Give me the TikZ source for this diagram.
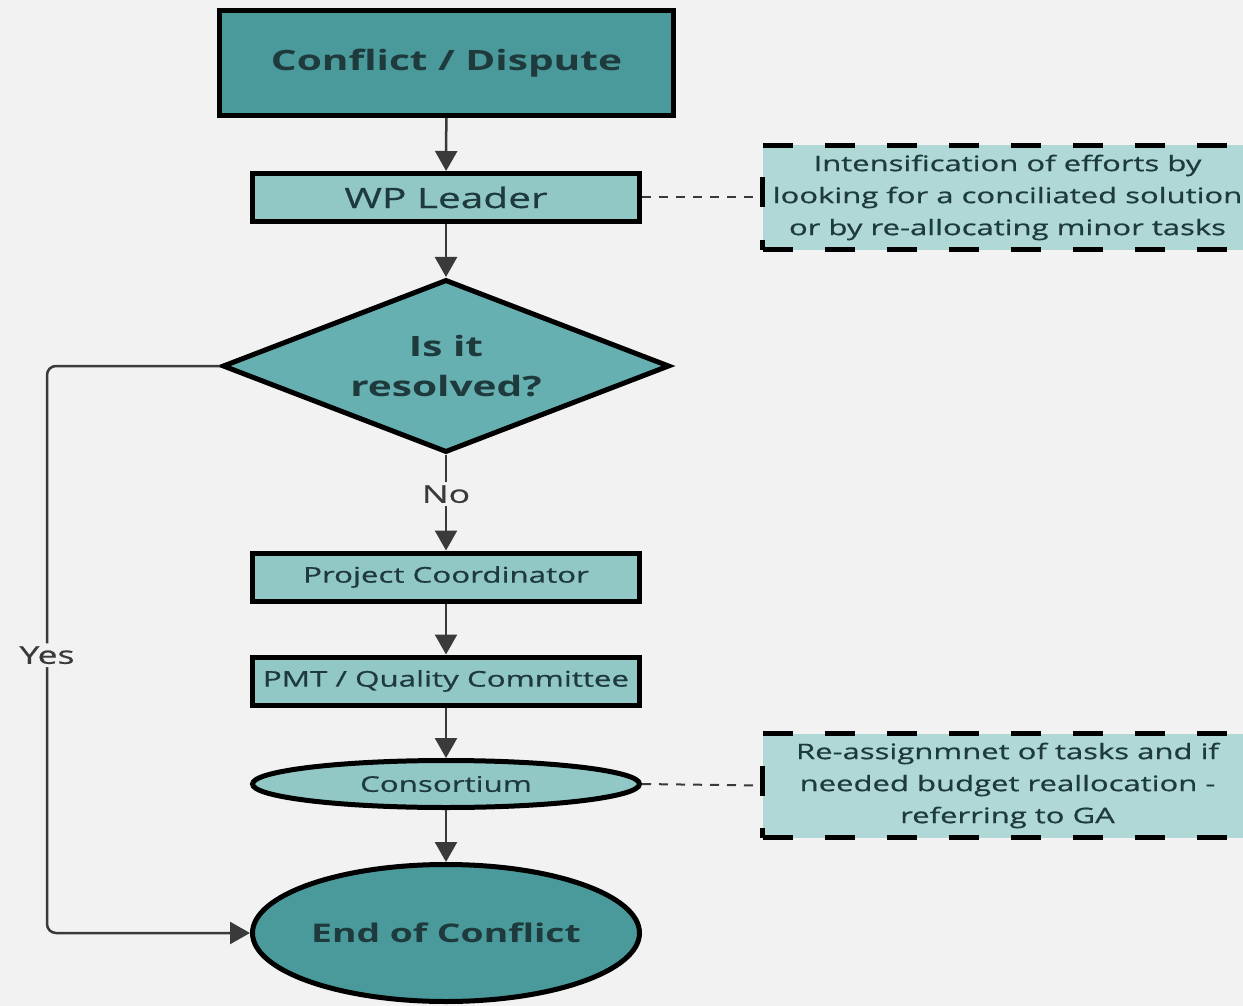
\documentclass[tikz,border=0pt]{standalone}
\usepackage{fontspec}
\setmainfont[FakeStretch=1.45, UprightFeatures={FakeBold=0.7}]{Open Sans}
\usetikzlibrary{shapes.geometric,arrows.meta}

\definecolor{pagebg}{HTML}{F2F2F2}
\definecolor{tealdark}{HTML}{4A9A9C}
\definecolor{tealmid}{HTML}{67B0B1}
\definecolor{teallight}{HTML}{91C8C6}
\definecolor{tealnote}{HTML}{AFD8D6}
\definecolor{inktext}{HTML}{1E3A3C}
\definecolor{linkgray}{HTML}{3A3A3A}

\tikzset{
  box/.style={draw=black, line width=5pt, text=inktext, inner sep=0pt, align=center},
  stepbox/.style={box, rectangle, fill=teallight, minimum width=387pt, minimum height=48pt,
    font=\fontsize{21.6}{26}\selectfont},
  notebox/.style={rectangle, fill=tealnote, draw=black, line width=5pt,
    dash pattern=on 30pt off 32pt, text=inktext, align=center, inner sep=0pt,
    minimum width=490pt, minimum height=104pt, font=\fontsize{21.4}{32}\selectfont},
  flow/.style={draw=linkgray, line width=2.5pt, -{Triangle[width=22pt,length=20pt]}},
  aside/.style={draw=linkgray, line width=2pt, dash pattern=on 9pt off 8pt},
  lbl/.style={fill=pagebg, text=linkgray, inner sep=3pt, font=\fontsize{24.5}{28}\selectfont}
}

\begin{document}
\begin{tikzpicture}[x=1pt,y=-1pt]
  \fill[pagebg] (0,0) rectangle (1243,1006);
  \useasboundingbox (0,0) rectangle (1243,1006);
  \clip (0,0) rectangle (1243,1006);

  % main chain
  \node[box, rectangle, fill=tealdark, minimum width=454pt, minimum height=105pt,
        font=\fontsize{28}{34}\selectfont\bfseries] (start) at (446.5,63) {Conflict / Dispute};
  \node[stepbox, font=\fontsize{28}{32}\selectfont] (wpl) at (446,197.5) {WP Leader};
  \node[box, diamond, fill=tealmid, minimum width=447pt, minimum height=173pt] (dec) at (446,366) {};
  \node[text=inktext, align=center, font=\fontsize{28}{40}\selectfont\bfseries] (dectext) at (dec.center) {Is it\\resolved?};
  \node[stepbox] (coord) at (446,577) {Project Coordinator};
  \node[stepbox] (pmt) at (446,681) {PMT / Quality Committee};
  \node[box, ellipse, fill=teallight, minimum width=387pt, minimum height=47pt,
        font=\fontsize{21.6}{26}\selectfont] (cons) at (446,784) {Consortium};
  \node[box, ellipse, fill=tealdark, minimum width=387pt, minimum height=137pt,
        font=\fontsize{25.7}{30}\selectfont\bfseries] (fin) at (446,933) {End of Conflict};

  % side notes
  \node[notebox] (note1) at (1007.5,197.5)
    {Intensification of efforts by\\looking for a conciliated solution\\or by re-allocating minor tasks};
  \node[notebox] (note2) at (1007.5,785.5)
    {Re-assignmnet of tasks and if\\needed budget reallocation -\\referring to GA};

  % connectors
  \draw[flow] (start) -- (wpl);
  \draw[flow] (wpl) -- (dec);
  \draw[flow] (dec) -- node[lbl, pos=0.41] {No} (coord);
  \draw[flow] (coord) -- (pmt);
  \draw[flow] (pmt) -- (cons);
  \draw[flow] (cons) -- (fin);
  \draw[flow, rounded corners=9pt] (dec.west) -- (47,366) -- node[lbl, pos=0.51] {Yes} (47,933) -- (fin.west);

  \draw[aside] (wpl.east) -- (note1.west);
  \draw[aside] (cons.east) -- (note2.west);
\end{tikzpicture}
\end{document}
